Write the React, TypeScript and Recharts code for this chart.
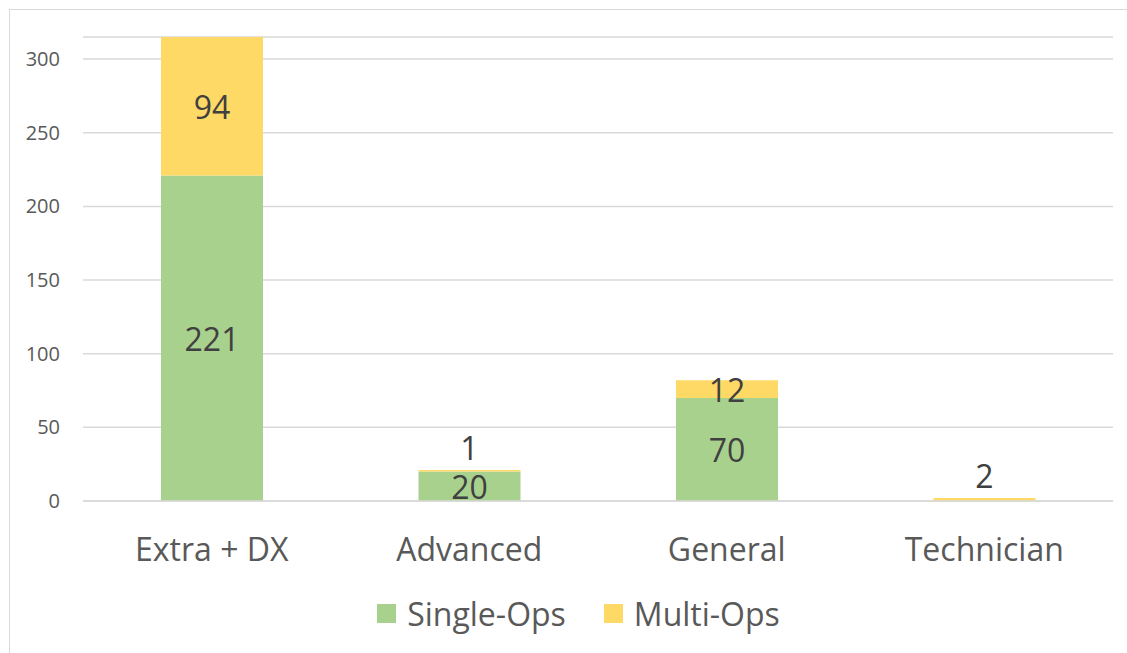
import { BarChart, Bar, XAxis, YAxis, CartesianGrid, Legend, LabelList } from 'recharts';

const categories = ['Extra + DX', 'Advanced', 'General', 'Technician'];
const singleOps = [221, 20, 70, 0];
const multiOps = [94, 1, 12, 2];
const yTicks = [0, 50, 100, 150, 200, 250, 300];

const data = categories.map((name, i) => ({
  name,
  single: singleOps[i],
  multi: multiOps[i],
}));

const FONT = '"Open Sans", sans-serif';
const GREEN = '#A9D18E';
const YELLOW = '#FFD966';

const legendItems = [
  { label: 'Single-Ops', color: GREEN },
  { label: 'Multi-Ops', color: YELLOW },
];

// centred label, hidden when the value is 0
const centerLabel = (props: any) => {
  const { x, y, width, height, value } = props;
  if (!value) return null;
  return (
    <text x={x + width / 2} y={y + height / 2} textAnchor="middle" dominantBaseline="central"
      fill="#404040" fontSize={32} fontFamily={FONT}>
      {value}
    </text>
  );
};

// thin segments get their label pushed above the bar
const multiLabel = (props: any) => {
  const { x, y, width, height, value } = props;
  if (!value) return null;
  const cy = height < 8 ? y - 23 : y + height / 2;
  return (
    <text x={x + width / 2} y={cy} textAnchor="middle" dominantBaseline="central"
      fill="#404040" fontSize={32} fontFamily={FONT}>
      {value}
    </text>
  );
};

const renderLegend = () => (
  <div style={{ display: 'flex', justifyContent: 'center', alignItems: 'center', fontFamily: FONT, fontSize: 32, color: '#595959', paddingLeft: 44 }}>
    {legendItems.map((it) => (
      <div key={it.label} style={{ display: 'flex', alignItems: 'center', margin: '0 19px' }}>
        <span style={{ display: 'inline-block', width: 19, height: 19, background: it.color, marginRight: 11 }} />
        <span>{it.label}</span>
      </div>
    ))}
  </div>
);

const App = () => {
  return (
    <div style={{ position: 'absolute', left: 0, top: 0, width: 1127, height: 653, background: '#fff', overflow: 'hidden' }}>
      <div style={{ position: 'absolute', left: 9, top: 9, width: 1130, height: 660, border: '1px solid #d9d9d9', boxSizing: 'border-box' }} />
      <BarChart width={1127} height={653} data={data} barSize={102}
        margin={{ top: 37, right: 14, left: 0, bottom: 21 }}>
        <CartesianGrid vertical={false} stroke="#d9d9d9" strokeWidth={1.5} />
        <XAxis dataKey="name" height={91} tickLine={false} axisLine={{ stroke: '#d9d9d9', strokeWidth: 1.5 }}
          tickMargin={31}
          tick={{ fill: '#595959', fontSize: 32, fontFamily: FONT }} />
        <YAxis width={83} domain={[0, 315]} ticks={yTicks} interval={0} tickLine={false} axisLine={false}
          tickSize={0} tickMargin={23}
          tick={{ fill: '#595959', fontSize: 20, fontFamily: FONT }} />
        <Legend verticalAlign="bottom" height={40} content={renderLegend} />
        <Bar dataKey="single" name="Single-Ops" stackId="a" fill={GREEN} isAnimationActive={false}>
          <LabelList dataKey="single" content={centerLabel} />
        </Bar>
        <Bar dataKey="multi" name="Multi-Ops" stackId="a" fill={YELLOW} isAnimationActive={false}>
          <LabelList dataKey="multi" content={multiLabel} />
        </Bar>
      </BarChart>
    </div>
  );
};

export default App;
